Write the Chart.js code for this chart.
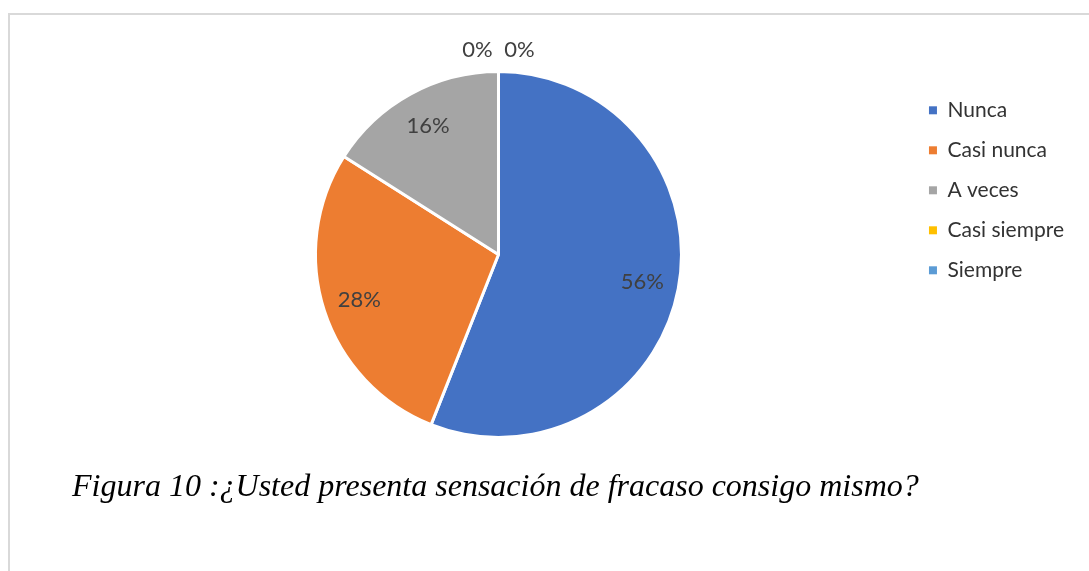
<!DOCTYPE html>
<html>
<head>
<meta charset="utf-8">
<script src="https://cdn.jsdelivr.net/npm/chart.js@4.4.1/dist/chart.umd.min.js"></script>
<style>
    body { margin: 0; background: #fff; }
    #wrap { position: relative; width: 1089px; height: 571px; overflow: hidden; }
    #frame { position: absolute; left: 8px; top: 13px; width: 1100px; height: 600px; border: 2px solid #d9d9d9; }
    #myChart { position: absolute; left: 0; top: 0; }
    #caption {
        position: absolute; left: 72px; top: 469px; white-space: nowrap;
        font-family: "Liberation Serif", "Times New Roman", serif; font-style: italic;
        font-size: 32px; line-height: 32px; color: #000;
    }
</style>
</head>
<body>
<div id="wrap">
    <div id="frame"></div>
    <canvas id="myChart" width="1089" height="571"></canvas>
    <div id="caption">Figura 10 :¿Usted presenta sensación de fracaso consigo mismo?</div>
</div>
<script>
// Chart data
const categories = ['Nunca', 'Casi nunca', 'A veces', 'Casi siempre', 'Siempre'];
const percentValues = [56, 28, 16, 0, 0];
const sliceColors = ['#4472C4', '#ED7D31', '#A5A5A5', '#FFC000', '#5B9BD5'];

// Percent labels on slices (zero slices go above the pie)
const pieLabels = {
    id: 'pieLabels',
    afterDatasetsDraw(chart) {
        const ctx = chart.ctx;
        const arcs = chart.getDatasetMeta(0).data;
        ctx.save();
        ctx.font = '22px Lato';
        ctx.fillStyle = '#404040';
        ctx.textAlign = 'center';
        ctx.textBaseline = 'middle';
        let zeroCount = 0;
        arcs.forEach((arc, i) => {
            const p = arc.getProps(['x', 'y', 'startAngle', 'endAngle', 'outerRadius'], true);
            const text = percentValues[i] + '%';
            if (percentValues[i] === 0) {
                // Zero slices: label outside, left then right
                const side = zeroCount === 0 ? -1 : 1;
                zeroCount++;
                ctx.fillText(text, p.x + side * 21, p.y - p.outerRadius - 22);
                return;
            }
            const mid = (p.startAngle + p.endAngle) / 2;
            const r = p.outerRadius * 0.8;
            ctx.fillText(text, p.x + Math.cos(mid) * r, p.y + Math.sin(mid) * r);
        });
        ctx.restore();
    }
};

const ctx = document.getElementById('myChart').getContext('2d');
const myChart = new Chart(ctx, {
    type: 'pie',
    data: {
        labels: categories,
        datasets: [{
            data: percentValues,
            backgroundColor: sliceColors,
            borderColor: '#ffffff',
            borderWidth: 3
        }]
    },
    options: {
        responsive: false,
        animation: false,
        layout: {
            padding: { left: 87, right: 15, top: 70, bottom: 132 }
        },
        plugins: {
            legend: {
                position: 'right',
                align: 'start',
                title: { display: true, text: '', font: { size: 9 }, padding: 0 },
                labels: {
                    boxWidth: 8,
                    boxHeight: 8,
                    padding: 19,
                    color: '#333333',
                    font: { family: 'Lato', size: 21 },
                    // plain square markers, no white border
                    generateLabels(chart) {
                        return Chart.overrides.pie.plugins.legend.labels.generateLabels(chart)
                            .map(item => ({ ...item, lineWidth: 0, strokeStyle: item.fillStyle }));
                    }
                }
            },
            tooltip: { enabled: false }
        }
    },
    plugins: [pieLabels]
});
</script>
</body>
</html>
